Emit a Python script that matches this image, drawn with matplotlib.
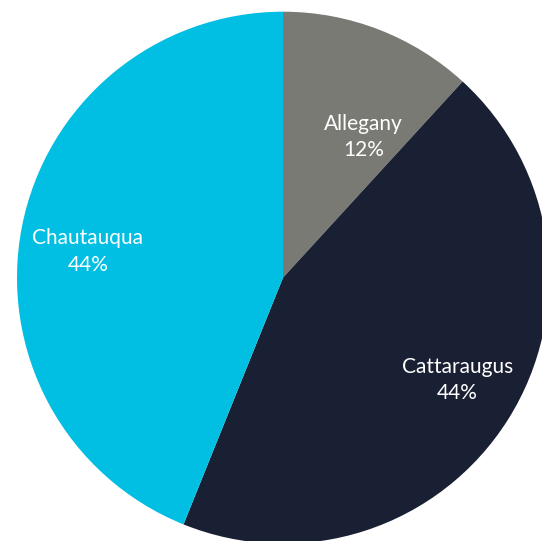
import numpy as np
import matplotlib.pyplot as plt

counties = ["Allegany", "Cattaraugus", "Chautauqua"]
shares = [11.8, 44.3, 43.9]
colors = ["#7a7a75", "#1a2034", "#00bfe2"]

# label placement (fraction of radius, shift from mid-angle in degrees)
label_r = [0.61, 0.76, 0.74]
label_shift = [-8.5, 1.8, 3.3]

plt.rcParams["font.family"] = ["Lato", "DejaVu Sans"]

fig = plt.figure(figsize=(5.42, 5.41), dpi=100)
ax = fig.add_axes([0, 0, 1, 1])

cx, cy, R = 283, 541 - 277.7, 266
wedges, _ = ax.pie(shares, colors=colors, startangle=90, counterclock=False,
                   center=(cx, cy), radius=R, wedgeprops=dict(linewidth=0))
ax.set_xlim(0, 542)
ax.set_ylim(0, 541)
ax.set_aspect("auto")
ax.axis("off")

for w, name, val, rf, sh in zip(wedges, counties, shares, label_r, label_shift):
    mid = np.deg2rad((w.theta1 + w.theta2) / 2 + sh)
    x = cx + rf * R * np.cos(mid)
    y = cy + rf * R * np.sin(mid)
    ax.text(x, y, f"{name}\n{val:.0f}%", ha="center", va="center", color="white",
            fontsize=15, linespacing=1.4)

fig.savefig("out.png", dpi=100)
